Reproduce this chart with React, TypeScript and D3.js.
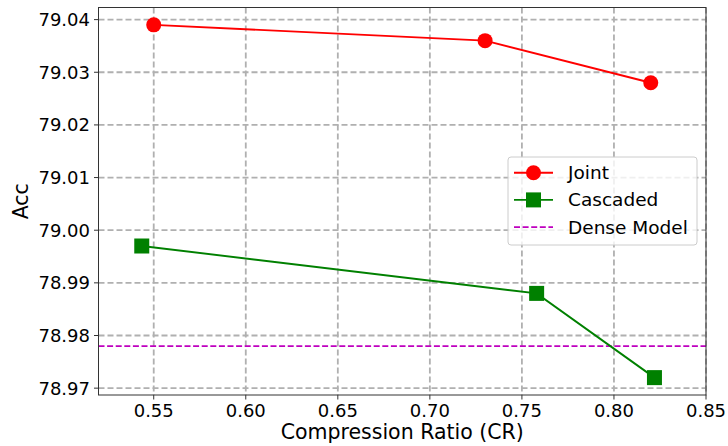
import React from 'react';
import * as d3 from 'd3';

const jointCR = [0.55, 0.73, 0.82];
const jointAcc = [79.039, 79.036, 79.028];
const cascadedCR = [0.5435, 0.758, 0.822];
const cascadedAcc = [78.997, 78.988, 78.972];
const denseAcc = 78.978;
const xTicks = [0.55, 0.6, 0.65, 0.7, 0.75, 0.8, 0.85];
const yTicks = [78.97, 78.98, 78.99, 79.0, 79.01, 79.02, 79.03, 79.04];

const W = 728;
const H = 446;
const margin = { top: 7.5, right: 22, bottom: 51, left: 98.5 };
const font = 'DejaVu Sans, sans-serif';

const App = () => {
  const x = d3.scaleLinear().domain([0.52, 0.85]).range([margin.left, W - margin.right]);
  const y = d3.scaleLinear().domain([78.9687, 79.0423]).range([H - margin.bottom, margin.top]);
  const line = d3.line<[number, number]>().x(d => x(d[0])).y(d => y(d[1]));
  const joint = jointCR.map((c, i) => [c, jointAcc[i]] as [number, number]);
  const cascaded = cascadedCR.map((c, i) => [c, cascadedAcc[i]] as [number, number]);
  const [x0, x1] = x.range();
  const [y0, y1] = y.range();

  const legX = 508, legY = 157;
  const rows = [
    { label: 'Joint', color: 'red', kind: 'circle' },
    { label: 'Cascaded', color: 'green', kind: 'square' },
    { label: 'Dense Model', color: '#bf00bf', kind: 'dash' },
  ];

  return (
    <svg width={W} height={H} style={{ position: 'absolute', left: 0, top: 0, background: '#fff' }}>
      {/* grid */}
      {xTicks.map(t => (
        <line key={'gx' + t} x1={x(t)} x2={x(t)} y1={y1} y2={y0} stroke="#b0b0b0" strokeWidth={1.8} strokeDasharray="6,3" />
      ))}
      {yTicks.map(t => (
        <line key={'gy' + t} x1={x0} x2={x1} y1={y(t)} y2={y(t)} stroke="#b0b0b0" strokeWidth={1.8} strokeDasharray="6,3" />
      ))}
      {/* dense model */}
      <line x1={x0} x2={x1} y1={y(denseAcc)} y2={y(denseAcc)} stroke="#bf00bf" strokeWidth={1.8} strokeDasharray="6,2.6" />
      {/* series */}
      <path d={line(joint) || ''} fill="none" stroke="red" strokeWidth={1.9} />
      {joint.map((d, i) => (
        <circle key={'j' + i} cx={x(d[0])} cy={y(d[1])} r={7.5} fill="red" />
      ))}
      <path d={line(cascaded) || ''} fill="none" stroke="green" strokeWidth={1.9} />
      {cascaded.map((d, i) => (
        <rect key={'c' + i} x={x(d[0]) - 7.5} y={y(d[1]) - 7.5} width={15} height={15} fill="green" />
      ))}
      {/* frame */}
      <rect x={x0} y={y1} width={x1 - x0} height={y0 - y1} fill="none" stroke="#333" strokeWidth={1} />
      {/* x ticks */}
      {xTicks.map(t => (
        <g key={'xt' + t}>
          <line x1={x(t)} x2={x(t)} y1={y0} y2={y0 + 4.5} stroke="#333" />
          <text x={x(t)} y={y0 + 22} textAnchor="middle" fontFamily={font} fontSize={18} fill="#000">{t.toFixed(2)}</text>
        </g>
      ))}
      {yTicks.map(t => (
        <g key={'yt' + t}>
          <line x1={x0 - 4.5} x2={x0} y1={y(t)} y2={y(t)} stroke="#333" />
          <text x={x0 - 8.5} y={y(t) + 6.5} textAnchor="end" fontFamily={font} fontSize={18} fill="#000">{t.toFixed(2)}</text>
        </g>
      ))}
      <text x={(x0 + x1) / 2} y={439} textAnchor="middle" fontFamily={font} fontSize={20.5} fill="#000">Compression Ratio (CR)</text>
      <text transform={`translate(28,${(y0 + y1) / 2}) rotate(-90)`} textAnchor="middle" fontFamily={font} fontSize={20.5} fill="#000">Acc</text>
      {/* legend */}
      <rect x={legX} y={legY} width={189} height={88} rx={3} fill="#fff" fillOpacity={0.8} stroke="#ccc" />
      {rows.map((r, i) => {
        const cy = 172.7 + i * 27.2;
        return (
          <g key={r.label}>
            {r.kind === 'dash' ? (
              <line x1={514} x2={553} y1={cy} y2={cy} stroke={r.color} strokeWidth={1.8} strokeDasharray="6,2.6" />
            ) : (
              <line x1={514} x2={553} y1={cy} y2={cy} stroke={r.color} strokeWidth={1.9} />
            )}
            {r.kind === 'circle' && <circle cx={533.5} cy={cy} r={7.5} fill={r.color} />}
            {r.kind === 'square' && <rect x={526} y={cy - 7.5} width={15} height={15} fill={r.color} />}
            <text x={568} y={cy + 6.5} fontFamily={font} fontSize={18.5} fill="#000">{r.label}</text>
          </g>
        );
      })}
    </svg>
  );
};

export default App;
